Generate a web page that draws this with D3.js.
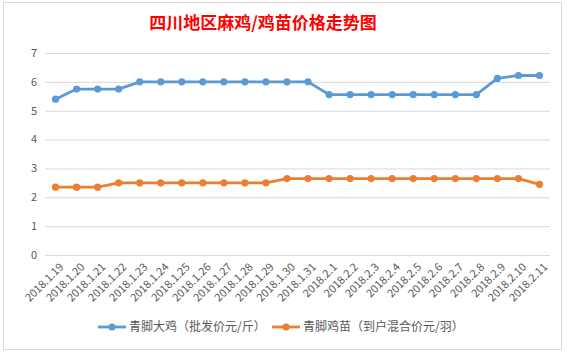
<!DOCTYPE html>
<html><head><meta charset="utf-8">
<script src="https://cdn.jsdelivr.net/npm/d3@7"></script>
<style>body{margin:0;background:#fff}svg{display:block}</style>
</head><body>
<script>
const categories = ["2018.1.19","2018.1.20","2018.1.21","2018.1.22","2018.1.23","2018.1.24","2018.1.25","2018.1.26","2018.1.27","2018.1.28","2018.1.29","2018.1.30","2018.1.31","2018.2.1","2018.2.2","2018.2.3","2018.2.4","2018.2.5","2018.2.6","2018.2.7","2018.2.8","2018.2.9","2018.2.10","2018.2.11"];
const bigChicken = [5.4,5.75,5.75,5.75,6,6,6,6,6,6,6,6,6,5.56,5.56,5.56,5.56,5.56,5.56,5.56,5.56,6.12,6.22,6.22];
const chick = [2.35,2.35,2.35,2.5,2.5,2.5,2.5,2.5,2.5,2.5,2.5,2.65,2.65,2.65,2.65,2.65,2.65,2.65,2.65,2.65,2.65,2.65,2.65,2.45];
const seriesNames = ["青脚大鸡（批发价元/斤）","青脚鸡苗（到户混合价元/羽）"];
const colors = ["#5b9bd5","#ed7d31"];
const yTicks = [0,1,2,3,4,5,6,7];
const title = "四川地区麻鸡/鸡苗价格走势图";

const W=567,H=353;
const svg=d3.select("body").append("svg").attr("width",W).attr("height",H);
const font="'Microsoft YaHei','Noto Sans CJK SC','DejaVu Sans',sans-serif";
svg.append("rect").attr("x",3.5).attr("y",2.5).attr("width",558).attr("height",347).attr("fill","#fff").attr("stroke","#d9d9d9");

const x=d3.scaleBand().domain(categories).range([45,550]);
const y=d3.scaleLinear().domain([0,7]).range([255,53]);

const g=svg.append("g");
g.selectAll("line.grid").data(yTicks).join("line").attr("class","grid")
 .attr("x1",45).attr("x2",550).attr("y1",d=>y(d)+0.5).attr("y2",d=>y(d)+0.5)
 .attr("stroke","#d9d9d9").attr("stroke-width",1);
g.selectAll("text.yl").data(yTicks).join("text").attr("class","yl")
 .attr("x",37).attr("y",d=>y(d)).attr("dy","0.35em").attr("text-anchor","end")
 .attr("font-family",font).attr("font-size",11).attr("fill","#595959").text(d=>d);

g.selectAll("text.xl").data(categories).join("text").attr("class","xl")
 .attr("transform",d=>`translate(${x(d)+x.bandwidth()/2+6},${265}) rotate(-45)`)
 .attr("text-anchor","end").attr("dy","0.35em")
 .attr("font-family",font).attr("font-size",11).attr("fill","#595959").text(d=>d);

const cx=d=>x(d)+x.bandwidth()/2;
[bigChicken,chick].forEach((vals,i)=>{
  const line=d3.line().x((v,j)=>cx(categories[j])).y(v=>y(v));
  g.append("path").datum(vals).attr("d",line).attr("fill","none").attr("stroke",colors[i]).attr("stroke-width",2.8).attr("stroke-linejoin","round");
  g.selectAll(null).data(vals).join("circle").attr("cx",(v,j)=>cx(categories[j])).attr("cy",v=>y(v)).attr("r",3.6).attr("fill",colors[i]);
});

svg.append("text").attr("x",263).attr("y",29).attr("text-anchor","middle")
 .attr("font-family",font).attr("font-size",17).attr("font-weight","bold").attr("fill","#ff0000").text(title);

const leg=[{x:98,t:seriesNames[0],c:colors[0]},{x:272,t:seriesNames[1],c:colors[1]}];
const lg=svg.selectAll("g.leg").data(leg).join("g").attr("transform",d=>`translate(${d.x},327)`);
lg.append("line").attr("x1",0).attr("x2",28).attr("stroke",d=>d.c).attr("stroke-width",2.8);
lg.append("circle").attr("cx",14).attr("r",3.6).attr("fill",d=>d.c);
lg.append("text").attr("x",31).attr("dy","0.35em").attr("font-family",font).attr("font-size",12).attr("fill","#595959").text(d=>d.t);
</script>
</body></html>
